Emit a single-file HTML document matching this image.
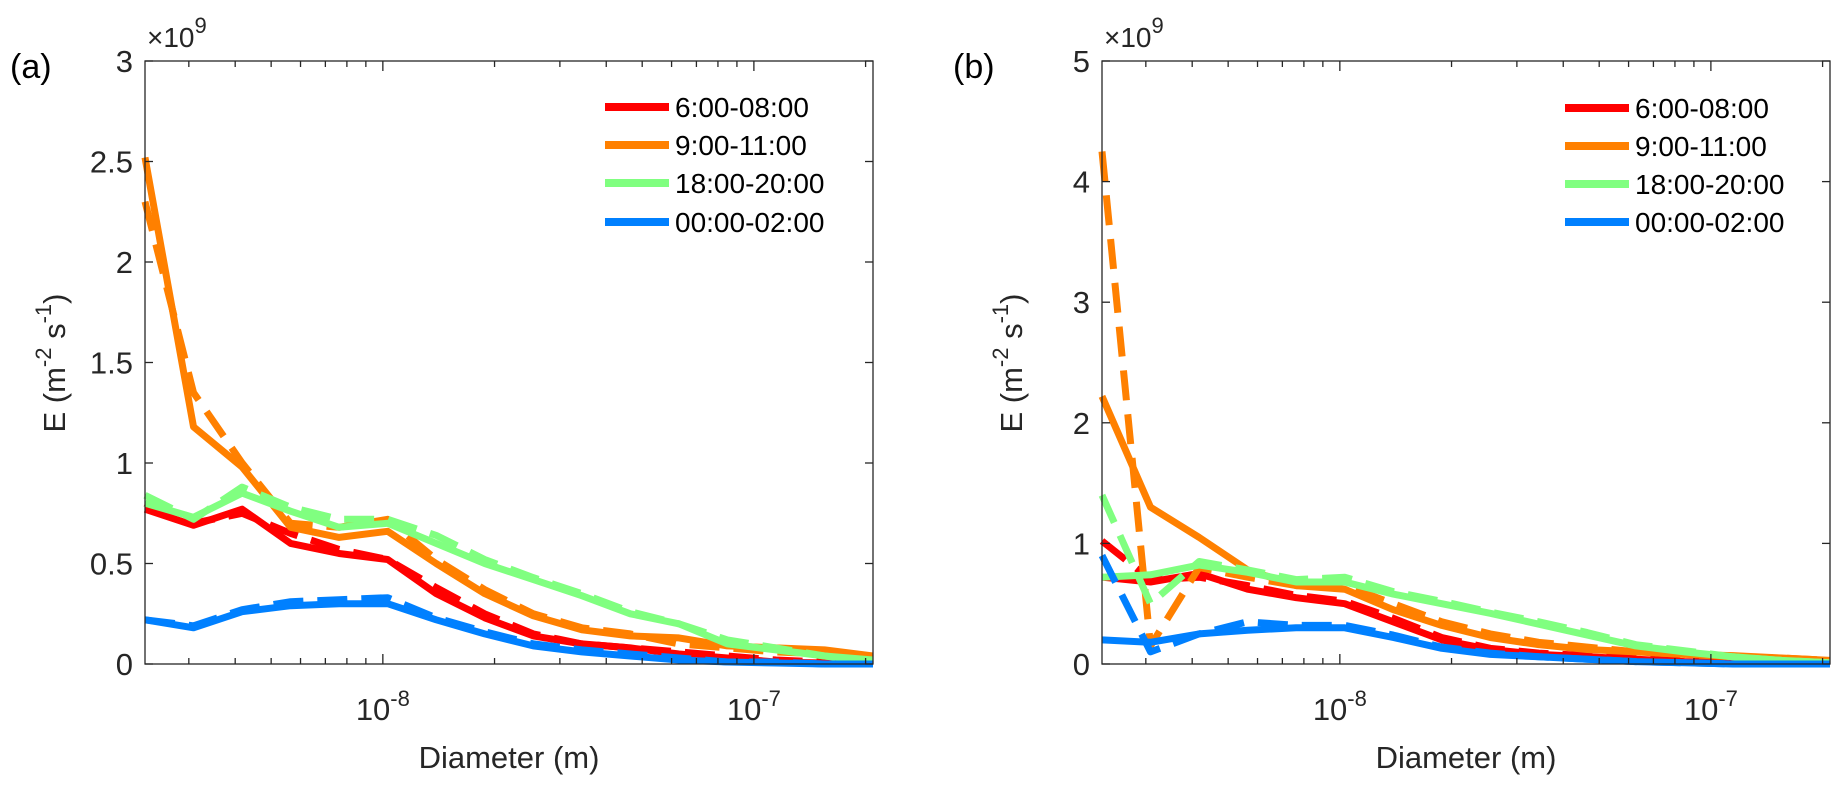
<!DOCTYPE html>
<html><head><meta charset="utf-8"><style>
body{margin:0;background:#fff;width:1848px;height:790px;overflow:hidden;}
svg{font-family:"Liberation Sans",sans-serif;}
</style></head><body>
<svg id="chart" width="1848" height="790" xmlns="http://www.w3.org/2000/svg"></svg>
<script>
const logD = [];
const catCount = 16;
const legendLabels = ["6:00-08:00","9:00-11:00","18:00-20:00","00:00-02:00"];
const colors = ["#ff0000","#ff8000","#80ff80","#0080ff"];
// panel a values (x1e9)
const aRedSolid   =[0.77,0.69,0.77,0.60,0.55,0.52,0.35,0.23,0.14,0.10,0.08,0.05,0.03,0.01,0.005,0];
const aRedDash    =[0.80,0.70,0.75,0.65,0.57,0.52,0.38,0.25,0.15,0.10,0.08,0.06,0.04,0.02,0.01,0];
const aOrSolid    =[2.52,1.18,0.98,0.68,0.63,0.66,0.50,0.35,0.24,0.17,0.14,0.13,0.09,0.08,0.07,0.04];
const aOrDash     =[2.30,1.35,1.00,0.70,0.68,0.72,0.52,0.37,0.25,0.18,0.15,0.10,0.08,0.06,0.05,0.03];
const aGrSolid    =[0.80,0.73,0.85,0.76,0.68,0.70,0.60,0.50,0.42,0.34,0.25,0.20,0.10,0.07,0.04,0.02];
const aGrDash     =[0.84,0.72,0.88,0.78,0.72,0.72,0.64,0.52,0.43,0.35,0.26,0.20,0.12,0.08,0.04,0.01];
const aBlSolid    =[0.22,0.18,0.26,0.29,0.30,0.30,0.22,0.15,0.09,0.06,0.04,0.02,0.01,0.005,0,0];
const aBlDash     =[0.22,0.19,0.27,0.31,0.32,0.33,0.23,0.16,0.10,0.07,0.05,0.03,0.01,0.01,0,0];
// panel b values
const bRedSolid   =[0.72,0.68,0.75,0.62,0.55,0.50,0.35,0.20,0.12,0.08,0.06,0.04,0.02,0.01,0.005,0];
const bRedDash    =[1.02,0.70,0.72,0.65,0.57,0.52,0.38,0.22,0.13,0.09,0.07,0.05,0.03,0.01,0.01,0];
const bOrSolid    =[2.22,1.30,1.05,0.78,0.65,0.62,0.45,0.32,0.22,0.16,0.12,0.10,0.08,0.07,0.05,0.03];
const bOrDash     =[4.25,0.15,0.80,0.72,0.65,0.65,0.50,0.35,0.25,0.18,0.14,0.10,0.08,0.06,0.05,0.03];
const bGrSolid    =[0.72,0.74,0.82,0.76,0.68,0.68,0.58,0.50,0.42,0.33,0.24,0.15,0.10,0.06,0.03,0.01];
const bGrDash     =[1.40,0.50,0.85,0.78,0.70,0.72,0.60,0.52,0.43,0.35,0.26,0.16,0.11,0.06,0.03,0.01];
const bBlSolid    =[0.20,0.18,0.25,0.28,0.30,0.30,0.22,0.13,0.08,0.06,0.04,0.02,0.01,0,0,0];
const bBlDash     =[0.90,0.10,0.25,0.35,0.32,0.32,0.24,0.14,0.09,0.06,0.04,0.02,0.01,0,0,0];
const yTicksA=[0,0.5,1,1.5,2,2.5,3];
const yTicksB=[0,1,2,3,4,5];
const xMin=-8.641, xMax=-6.679;
for(let i=0;i<catCount;i++) logD.push(xMin+(xMax-xMin)*i/(catCount-1));

const NS="http://www.w3.org/2000/svg";
const svg=document.getElementById('chart');
function mk(tag,attrs,parent){const e=document.createElementNS(NS,tag);for(const k in attrs)e.setAttribute(k,attrs[k]);(parent||svg).appendChild(e);return e;}

function panel(cfg){
  const g=mk('g',{});
  
  
  const L=cfg.left,R=cfg.right,T=61,B=664;
  const xs=v=>L+(v-xMin)/(xMax-xMin)*(R-L);
  const ys=v=>B-v/cfg.yMax*(B-T);
  const series=cfg.series;
  series.forEach((s,si)=>{
    [[s[0],null],[s[1],"30,14"]].forEach(([vals,dash])=>{
      const p=mk('polyline',{points:vals.map((v,i)=>xs(logD[i]).toFixed(1)+','+ys(v).toFixed(1)).join(' '),fill:'none',stroke:colors[si],'stroke-width':7,'stroke-linejoin':'round'},g);
      if(dash)p.setAttribute('stroke-dasharray',dash);
      
      
    });
  });
  const box=mk('rect',{x:L,y:T,width:R-L,height:B-T,fill:'none',stroke:'#262626','stroke-width':1.3},g);
  
  
  cfg.yTicks.forEach(t=>{
    const y=ys(t);
    mk('line',{x1:L,x2:L+8,y1:y,y2:y,stroke:'#262626','stroke-width':1.3},g);
    mk('line',{x1:R,x2:R-8,y1:y,y2:y,stroke:'#262626','stroke-width':1.3},g);
    const tx=mk('text',{x:L-12,y:y+11,'text-anchor':'end','font-size':31,fill:'#262626'},g);
    tx.textContent=String(t);
    
    
  });
  for(let d=-9;d<=-6;d++){
    for(let m=1;m<=9;m++){
      const lv=d+Math.log10(m);
      if(lv<xMin||lv>xMax)continue;
      const x=xs(lv),len=m===1?10:6;
      mk('line',{x1:x,x2:x,y1:B,y2:B-len,stroke:'#262626','stroke-width':1.3},g);
      mk('line',{x1:x,x2:x,y1:T,y2:T+len,stroke:'#262626','stroke-width':1.3},g);
      if(m===1){
        const tx=mk('text',{x:x,y:720,'text-anchor':'middle','font-size':31,fill:'#262626'},g);
        tx.innerHTML='10<tspan dy="-14" font-size="22">'+d+'</tspan>';
        
        
      }
    }
  }
  const ex=mk('text',{x:L+2,y:47,'font-size':28,fill:'#262626'},g);
  ex.innerHTML='×10<tspan dy="-14" font-size="22">9</tspan>';
  
  
  const pl=mk('text',{x:cfg.labelX,y:78,'font-size':34,fill:'#000'},g);
  pl.textContent=cfg.label;
  
  
  const xl=mk('text',{x:(L+R)/2,y:768,'text-anchor':'middle','font-size':31,fill:'#262626'},g);
  xl.textContent='Diameter (m)';
  
  
  const yl=mk('text',{x:0,y:0,'text-anchor':'middle','font-size':31,fill:'#262626',transform:'translate('+(L-80)+',363) rotate(-90)'},g);
  yl.innerHTML='E (m<tspan dy="-14" font-size="22">-2</tspan><tspan dy="14"> s</tspan><tspan dy="-14" font-size="22">-1</tspan><tspan dy="14">)</tspan>';
  
  
  legendLabels.forEach((lab,i)=>{
    const y=cfg.legY[i];
    const le=mk('g',{},g);
    
    
    mk('line',{x1:cfg.legX,x2:cfg.legX+64,y1:y,y2:y,stroke:colors[i],'stroke-width':8},le);
    const t=mk('text',{x:cfg.legX+70,y:y+10,'font-size':28,fill:'#000'},le);
    t.textContent=lab;
  });
}
panel({name:'panel-a',left:145,right:873,yMax:3,yTicks:yTicksA,label:'(a)',labelX:10,legX:605,legY:[107,145,183,222],
  series:[[aRedSolid,aRedDash],[aOrSolid,aOrDash],[aGrSolid,aGrDash],[aBlSolid,aBlDash]]});
panel({name:'panel-b',left:1102,right:1830,yMax:5,yTicks:yTicksB,label:'(b)',labelX:953,legX:1565,legY:[108,146,184,222],
  series:[[bRedSolid,bRedDash],[bOrSolid,bOrDash],[bGrSolid,bGrDash],[bBlSolid,bBlDash]]});
</script>
</body></html>
